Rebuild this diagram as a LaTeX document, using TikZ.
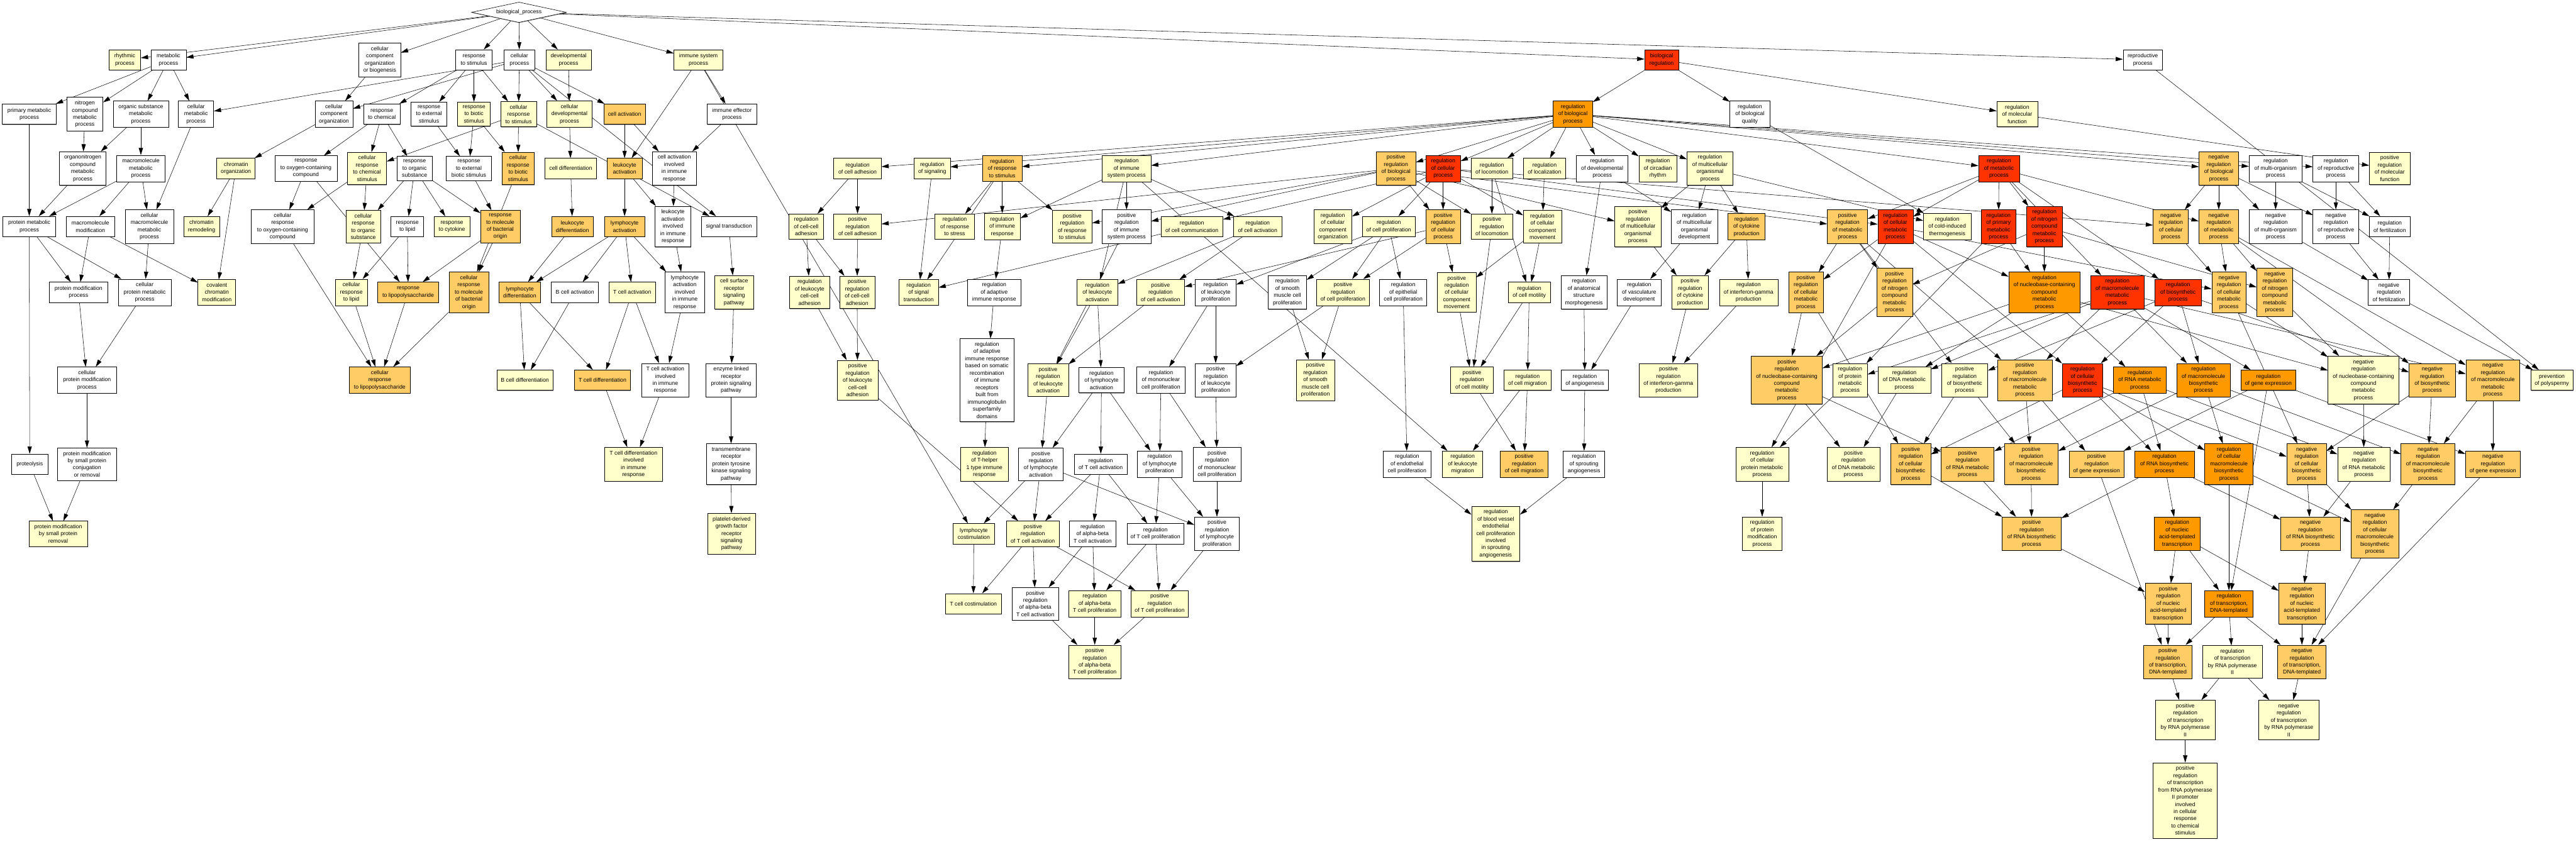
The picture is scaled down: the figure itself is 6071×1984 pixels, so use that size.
\documentclass[tikz,border=0pt]{standalone}
\usepackage{fontspec}
\setmainfont{Liberation Sans}
\usepackage{tikz}
\usetikzlibrary{arrows.meta}
\usetikzlibrary{shapes.geometric, backgrounds, shadows}

\definecolor{goyel}{HTML}{FFFFCC}
\definecolor{golor}{HTML}{FFCC66}
\definecolor{goorg}{HTML}{FF9900}
\definecolor{gored}{HTML}{FF3300}

\tikzset{
  box/.style={draw=black, line width=0.9pt, rectangle, align=center,
    font=\fontsize{13}{17}\selectfont, inner xsep=4pt, inner ysep=8pt,
    minimum height=48pt,
    drop shadow={shadow xshift=1pt, shadow yshift=-1.5pt, fill=black, opacity=0.35}},
  wh/.style={box, fill=white},
  yl/.style={box, fill=goyel},
  lo/.style={box, fill=golor},
  og/.style={box, fill=goorg},
  rd/.style={box, fill=gored},
  arr/.style={-{Triangle[length=17pt,width=10pt]}, line width=0.8pt},
}

\begin{document}
\begin{tikzpicture}[x=1pt, y=-1pt]
\useasboundingbox (0,0) rectangle (6071,1984);

% root
\node[draw=black, line width=0.9pt, fill=white, diamond, shape aspect=4.6, inner sep=0pt,
  minimum width=223pt, minimum height=48pt, font=\fontsize{13}{17}\selectfont,
  drop shadow={shadow xshift=1pt, shadow yshift=-1.5pt, fill=black, opacity=0.35}]
  (bp) at (1223,29) {biological\_process};

% level 1
\node[yl, minimum width=75pt] (rhy) at (294,141) {rhythmic\\process};
\node[wh, minimum width=83pt] (met) at (397,141) {metabolic\\process};
\node[wh, minimum width=99pt] (ccob) at (895,141) {cellular\\component\\organization\\or biogenesis};
\node[wh, minimum width=86pt] (rstim) at (1117,141) {response\\to stimulus};
\node[wh, minimum width=73pt] (cproc) at (1224,141) {cellular\\process};
\node[yl, minimum width=106pt] (dev) at (1340,141) {developmental\\process};
\node[yl, minimum width=116pt] (imm) at (1646,141) {immune system\\process};
\node[rd, minimum width=80pt] (breg) at (3916,141) {biological\\regulation};
\node[wh, minimum width=93pt] (repro) at (5050,141) {reproductive\\process};

% level 2
\node[wh, minimum width=128pt] (pmet) at (69,269) {primary metabolic\\process};
\node[wh, minimum width=85pt] (ncmet) at (200,269) {nitrogen\\compound\\metabolic\\process};
\node[wh, minimum width=130pt] (osmet) at (332,269) {organic substance\\metabolic\\process};
\node[wh, minimum width=83pt] (cmet) at (462,269) {cellular\\metabolic\\process};
\node[wh, minimum width=89pt] (cco) at (787,269) {cellular\\component\\organization};
\node[wh, minimum width=87pt] (rchem) at (900,269) {response\\to chemical};
\node[wh, minimum width=85pt] (rext) at (1011,269) {response\\to external\\stimulus};
\node[yl, minimum width=77pt] (rbio) at (1117,269) {response\\to biotic\\stimulus};
\node[yl, minimum width=84pt] (crstim) at (1222,269) {cellular\\response\\to stimulus};
\node[yl, minimum width=107pt] (cdev) at (1342,269) {cellular\\developmental\\process};
\node[lo, minimum width=98pt] (cact) at (1472,269) {cell activation};
\node[wh, minimum width=117pt] (ieff) at (1725,269) {immune effector\\process};
\node[og, minimum width=93pt] (rbp) at (3707,269) {regulation\\of biological\\process};
\node[wh, minimum width=94pt] (rbq) at (4124,269) {regulation\\of biological\\quality};
\node[yl, minimum width=96pt] (rmf) at (4754,269) {regulation\\of molecular\\function};

% level 3
\node[wh, minimum width=109pt] (onmet) at (195,397) {organonitrogen\\compound\\metabolic\\process};
\node[wh, minimum width=114pt] (mmet) at (332,397) {macromolecule\\metabolic\\process};
\node[yl, minimum width=90pt] (chrorg) at (556,397) {chromatin\\organization};
\node[wh, minimum width=147pt] (roxy) at (721,397) {response\\to oxygen-containing\\compound};
\node[yl, minimum width=92pt] (crchem) at (865,397) {cellular\\response\\to chemical\\stimulus};
\node[wh, minimum width=83pt] (rorg) at (977,397) {response\\to organic\\substance};
\node[wh, minimum width=106pt] (rextb) at (1105,397) {response\\to external\\biotic stimulus};
\node[lo, minimum width=77pt] (crbio) at (1221,397) {cellular\\response\\to biotic\\stimulus};
\node[yl, minimum width=122pt] (cdiff) at (1345,397) {cell differentiation};
\node[lo, minimum width=83pt] (lact) at (1472,397) {leukocyte\\activation};
\node[wh, minimum width=104pt] (caiir) at (1589,397) {cell activation\\involved\\in immune\\response};
\node[yl, minimum width=112pt] (radh) at (2021,397) {regulation\\of cell adhesion};
\node[yl, minimum width=85pt] (rsig) at (2197,397) {regulation\\of signaling};
\node[lo, minimum width=93pt] (rrs) at (2362,397) {regulation\\of response\\to stimulus};
\node[yl, minimum width=115pt] (ris) at (2655,397) {regulation\\of immune\\system process};
\node[lo, minimum width=93pt] (prbp) at (3290,397) {positive\\regulation\\of biological\\process};
\node[rd, minimum width=82pt] (rcp) at (3401,397) {regulation\\of cellular\\process};
\node[yl, minimum width=98pt] (rloc) at (3516,397) {regulation\\of locomotion};
\node[yl, minimum width=100pt] (rlocz) at (3640,397) {regulation\\of localization};
\node[wh, minimum width=122pt] (rdev) at (3776,397) {regulation\\of developmental\\process};
\node[yl, minimum width=89pt] (rcirc) at (3907,397) {regulation\\of circadian\\rhythm};
\node[yl, minimum width=108pt] (rmop) at (4030,397) {regulation\\of multicellular\\organismal\\process};
\node[rd, minimum width=96pt] (rmp) at (4711,397) {regulation\\of metabolic\\process};
\node[lo, minimum width=93pt] (nrbp) at (5229,397) {negative\\regulation\\of biological\\process};
\node[wh, minimum width=125pt] (rmorg) at (5363,397) {regulation\\of multi-organism\\process};
\node[wh, minimum width=108pt] (rrep) at (5505,397) {regulation\\of reproductive\\process};
\node[yl, minimum width=96pt] (prmf) at (5632,397) {positive\\regulation\\of molecular\\function};

% level 4
\node[wh, minimum width=125pt] (prmet) at (69,534) {protein metabolic\\process};
\node[wh, minimum width=114pt] (mmod) at (213,534) {macromolecule\\modification};
\node[wh, minimum width=114pt] (cmmet) at (352,534) {cellular\\macromolecule\\metabolic\\process};
\node[yl, minimum width=85pt] (chrrem) at (475,534) {chromatin\\remodeling};
\node[wh, minimum width=147pt] (croxy) at (666,534) {cellular\\response\\to oxygen-containing\\compound};
\node[yl, minimum width=82pt] (crorg) at (856,534) {cellular\\response\\to organic\\substance};
\node[wh, minimum width=77pt] (rlip) at (960,534) {response\\to lipid};
\node[yl, minimum width=85pt] (rcyt) at (1065,534) {response\\to cytokine};
\node[lo, minimum width=93pt] (rmbo) at (1179,534) {response\\to molecule\\of bacterial\\origin};
\node[lo, minimum width=98pt] (ldiff) at (1349,534) {leukocyte\\differentiation};
\node[lo, minimum width=94pt] (lyact) at (1472,534) {lymphocyte\\activation};
\node[wh, minimum width=85pt] (laiir) at (1586,534) {leukocyte\\activation\\involved\\in immune\\response};
\node[wh, minimum width=131pt] (sigtr) at (1718,534) {signal transduction};
\node[yl, minimum width=82pt] (rccadh) at (1900,534) {regulation\\of cell-cell\\adhesion};
\node[yl, minimum width=112pt] (pradh) at (2021,534) {positive\\regulation\\of cell adhesion};
\node[yl, minimum width=93pt] (rrstr) at (2250,534) {regulation\\of response\\to stress};
\node[yl, minimum width=85pt] (rir) at (2362,534) {regulation\\of immune\\response};
\node[yl, minimum width=93pt] (prrs) at (2527,534) {positive\\regulation\\of response\\to stimulus};
\node[wh, minimum width=115pt] (pris) at (2655,534) {positive\\regulation\\of immune\\system process};
\node[yl, minimum width=146pt] (rcc) at (2809,534) {regulation\\of cell communication};
\node[yl, minimum width=114pt] (rcact) at (2964,534) {regulation\\of cell activation};
\node[yl, minimum width=90pt] (rcco) at (3141,534) {regulation\\of cellular\\component\\organization};
\node[yl, minimum width=125pt] (rcprol) at (3273,534) {regulation\\of cell proliferation};
\node[lo, minimum width=82pt] (prcp) at (3401,534) {positive\\regulation\\of cellular\\process};
\node[yl, minimum width=98pt] (prloc) at (3516,534) {positive\\regulation\\of locomotion};
\node[yl, minimum width=90pt] (rccm) at (3635,534) {regulation\\of cellular\\component\\movement};
\node[yl, minimum width=109pt] (prmop) at (3860,534) {positive\\regulation\\of multicellular\\organismal\\process};
\node[wh, minimum width=109pt] (rmod) at (3993,534) {regulation\\of multicellular\\organismal\\development};
\node[lo, minimum width=88pt] (rcytp) at (4116,534) {regulation\\of cytokine\\production};
\node[lo, minimum width=95pt] (prmp) at (4354,534) {positive\\regulation\\of metabolic\\process};
\node[rd, minimum width=83pt] (rcmp) at (4467,534) {regulation\\of cellular\\metabolic\\process};
\node[yl, minimum width=112pt] (rcit) at (4589,534) {regulation\\of cold-induced\\thermogenesis};
\node[rd, minimum width=82pt] (rpmp) at (4710,534) {regulation\\of primary\\metabolic\\process};
\node[rd, minimum width=85pt] (rncmp) at (4818,534) {regulation\\of nitrogen\\compound\\metabolic\\process};
\node[lo, minimum width=83pt] (nrcp) at (5116,534) {negative\\regulation\\of cellular\\process};
\node[lo, minimum width=94pt] (nrmp) at (5229,534) {negative\\regulation\\of metabolic\\process};
\node[wh, minimum width=125pt] (nrmorg) at (5363,534) {negative\\regulation\\of multi-organism\\process};
\node[wh, minimum width=108pt] (nrrep) at (5505,534) {negative\\regulation\\of reproductive\\process};
\node[wh, minimum width=97pt] (rfert) at (5632,534) {regulation\\of fertilization};

% level 5
\node[wh, minimum width=138pt] (pmod) at (185,689) {protein modification\\process};
\node[wh, minimum width=124pt] (cpmet) at (341,689) {cellular\\protein metabolic\\process};
\node[yl, minimum width=89pt] (ccmod) at (511,689) {covalent\\chromatin\\modification};
\node[yl, minimum width=76pt] (crlip) at (828,689) {cellular\\response\\to lipid};
\node[lo, minimum width=144pt] (rlps) at (962,689) {response\\to lipopolysaccharide};
\node[lo, minimum width=94pt] (crmbo) at (1105,689) {cellular\\response\\to molecule\\of bacterial\\origin};
\node[lo, minimum width=98pt] (lydiff) at (1225,689) {lymphocyte\\differentiation};
\node[wh, minimum width=111pt] (bact) at (1355,689) {B cell activation};
\node[yl, minimum width=109pt] (tact) at (1490,689) {T cell activation};
\node[wh, minimum width=93pt] (lyaiir) at (1614,689) {lymphocyte\\activation\\involved\\in immune\\response};
\node[yl, minimum width=91pt] (csrsp) at (1730,689) {cell surface\\receptor\\signaling\\pathway};
\node[yl, minimum width=95pt] (rlccadh) at (1908,689) {regulation\\of leukocyte\\cell-cell\\adhesion};
\node[yl, minimum width=83pt] (prccadh) at (2020,689) {positive\\regulation\\of cell-cell\\adhesion};
\node[yl, minimum width=93pt] (rst) at (2165,689) {regulation\\of signal\\transduction};
\node[wh, minimum width=125pt] (rair) at (2343,689) {regulation\\of adaptive\\immune response};
\node[yl, minimum width=96pt] (rlact) at (2586,689) {regulation\\of leukocyte\\activation};
\node[yl, minimum width=113pt] (prcact) at (2735,689) {positive\\regulation\\of cell activation};
\node[wh, minimum width=96pt] (rlprol) at (2865,689) {regulation\\of leukocyte\\proliferation};
\node[wh, minimum width=90pt] (rsmprol) at (3034,689) {regulation\\of smooth\\muscle cell\\proliferation};
\node[yl, minimum width=125pt] (prcprol) at (3165,689) {positive\\regulation\\of cell proliferation};
\node[wh, minimum width=111pt] (reprol) at (3307,689) {regulation\\of epithelial\\cell proliferation};
\node[yl, minimum width=91pt] (prccm) at (3433,689) {positive\\regulation\\of cellular\\component\\movement};
\node[yl, minimum width=100pt] (rcmot) at (3604,689) {regulation\\of cell motility};
\node[wh, minimum width=108pt] (rasm) at (3733,689) {regulation\\of anatomical\\structure\\morphogenesis};
\node[wh, minimum width=103pt] (rvd) at (3863,689) {regulation\\of vasculature\\development};
\node[yl, minimum width=87pt] (prcytp) at (3983,689) {positive\\regulation\\of cytokine\\production};
\node[yl, minimum width=138pt] (rifng) at (4121,689) {regulation\\of interferon-gamma\\production};
\node[lo, minimum width=82pt] (prcmp) at (4256,689) {positive\\regulation\\of cellular\\metabolic\\process};
\node[lo, minimum width=84pt] (prncmp) at (4465,689) {positive\\regulation\\of nitrogen\\compound\\metabolic\\process};
\node[og, minimum width=168pt] (rnbc) at (4818,689) {regulation\\of nucleobase-containing\\compound\\metabolic\\process};
\node[rd, minimum width=127pt] (rmmp) at (4990,689) {regulation\\of macromolecule\\metabolic\\process};
\node[rd, minimum width=109pt] (rbsp) at (5133,689) {regulation\\of biosynthetic\\process};
\node[lo, minimum width=81pt] (nrcmp) at (5253,689) {negative\\regulation\\of cellular\\metabolic\\process};
\node[lo, minimum width=85pt] (nrncmp) at (5361,689) {negative\\regulation\\of nitrogen\\compound\\metabolic\\process};
\node[wh, minimum width=97pt] (nrfert) at (5630,689) {negative\\regulation\\of fertilization};

% level 6
\node[wh, minimum width=138pt] (cpmod) at (205,896) {cellular\\protein modification\\process};
\node[lo, minimum width=143pt] (crlps) at (895,896) {cellular\\response\\to lipopolysaccharide};
\node[yl, minimum width=132pt] (bdiff) at (1237,896) {B cell differentiation};
\node[lo, minimum width=132pt] (tdiff) at (1420,896) {T cell differentiation};
\node[wh, minimum width=112pt] (taiir) at (1568,896) {T cell activation\\involved\\in immune\\response};
\node[wh, minimum width=119pt] (elrsp) at (1723,896) {enzyme linked\\receptor\\protein signaling\\pathway};
\node[yl, minimum width=96pt] (prlccadh) at (2021,896) {positive\\regulation\\of leukocyte\\cell-cell\\adhesion};
\node[wh, minimum width=128pt] (rairsr) at (2326,896) {regulation\\of adaptive\\immune response\\based on somatic\\recombination\\of immune\\receptors\\built from\\immunoglobulin\\superfamily\\domains};
\node[yl, minimum width=96pt] (prlact) at (2470,896) {positive\\regulation\\of leukocyte\\activation};
\node[wh, minimum width=106pt] (rlyact) at (2596,896) {regulation\\of lymphocyte\\activation};
\node[wh, minimum width=114pt] (rmcprol) at (2736,896) {regulation\\of mononuclear\\cell proliferation};
\node[wh, minimum width=96pt] (prlprol) at (2865,896) {positive\\regulation\\of leukocyte\\proliferation};
\node[yl, minimum width=90pt] (prsmprol) at (3100,896) {positive\\regulation\\of smooth\\muscle cell\\proliferation};
\node[yl, minimum width=101pt] (prcmot) at (3469,896) {positive\\regulation\\of cell motility};
\node[yl, minimum width=112pt] (rcmig) at (3600,896) {regulation\\of cell migration};
\node[wh, minimum width=111pt] (rang) at (3735,896) {regulation\\of angiogenesis};
\node[yl, minimum width=138pt] (prifng) at (3932,896) {positive\\regulation\\of interferon-gamma\\production};
\node[lo, minimum width=167pt] (prnbc) at (4211,896) {positive\\regulation\\of nucleobase-containing\\compound\\metabolic\\process};
\node[yl, minimum width=82pt] (rprmp) at (4360,896) {regulation\\of protein\\metabolic\\process};
\node[yl, minimum width=124pt] (rdna) at (4488,896) {regulation\\of DNA metabolic\\process};
\node[yl, minimum width=109pt] (prbsp) at (4630,896) {positive\\regulation\\of biosynthetic\\process};
\node[lo, minimum width=128pt] (prmmp) at (4772,896) {positive\\regulation\\of macromolecule\\metabolic\\process};
\node[rd, minimum width=96pt] (rcbsp) at (4908,896) {regulation\\of cellular\\biosynthetic\\process};
\node[og, minimum width=125pt] (rrna) at (5043,896) {regulation\\of RNA metabolic\\process};
\node[og, minimum width=126pt] (rmbsp) at (5193,896) {regulation\\of macromolecule\\biosynthetic\\process};
\node[og, minimum width=129pt] (rge) at (5346,896) {regulation\\of gene expression};
\node[yl, minimum width=167pt] (nrnbc) at (5570,896) {negative\\regulation\\of nucleobase-containing\\compound\\metabolic\\process};
\node[lo, minimum width=109pt] (nrbsp) at (5732,896) {negative\\regulation\\of biosynthetic\\process};
\node[lo, minimum width=127pt] (nrmmp) at (5875,896) {negative\\regulation\\of macromolecule\\metabolic\\process};
\node[yl, minimum width=99pt] (poly) at (6014,896) {prevention\\of polyspermy};

% level 7
\node[wh, minimum width=85pt] (prot) at (70,1094) {proteolysis};
\node[wh, minimum width=138pt] (pmsp) at (205,1094) {protein modification\\by small protein\\conjugation\\or removal};
\node[yl, minimum width=136pt] (tdiir) at (1493,1094) {T cell differentiation\\involved\\in immune\\response};
\node[wh, minimum width=117pt] (tmrtk) at (1723,1094) {transmembrane\\receptor\\protein tyrosine\\kinase signaling\\pathway};
\node[yl, minimum width=113pt] (rth1) at (2320,1094) {regulation\\of T-helper\\1 type immune\\response};
\node[wh, minimum width=106pt] (prlyact) at (2453,1094) {positive\\regulation\\of lymphocyte\\activation};
\node[wh, minimum width=125pt] (rtact) at (2594,1094) {regulation\\of T cell activation};
\node[wh, minimum width=106pt] (rlyprol) at (2733,1094) {regulation\\of lymphocyte\\proliferation};
\node[wh, minimum width=113pt] (prmcprol) at (2868,1094) {positive\\regulation\\of mononuclear\\cell proliferation};
\node[wh, minimum width=112pt] (rendo) at (3316,1094) {regulation\\of endothelial\\cell proliferation};
\node[yl, minimum width=95pt] (rlmig) at (3447,1094) {regulation\\of leukocyte\\migration};
\node[lo, minimum width=112pt] (prcmig) at (3592,1094) {positive\\regulation\\of cell migration};
\node[wh, minimum width=98pt] (rspang) at (3733,1094) {regulation\\of sprouting\\angiogenesis};
\node[yl, minimum width=125pt] (rcpmp) at (4153,1094) {regulation\\of cellular\\protein metabolic\\process};
\node[yl, minimum width=125pt] (prdna) at (4368,1094) {positive\\regulation\\of DNA metabolic\\process};
\node[lo, minimum width=94pt] (prcbsp) at (4503,1094) {positive\\regulation\\of cellular\\biosynthetic\\process};
\node[lo, minimum width=125pt] (prrna) at (4637,1094) {positive\\regulation\\of RNA metabolic\\process};
\node[lo, minimum width=127pt] (prmbsp) at (4787,1094) {positive\\regulation\\of macromolecule\\biosynthetic\\process};
\node[lo, minimum width=129pt] (prge) at (4941,1094) {positive\\regulation\\of gene expression};
\node[og, minimum width=140pt] (rrnab) at (5101,1094) {regulation\\of RNA biosynthetic\\process};
\node[og, minimum width=114pt] (rcmbsp) at (5253,1094) {regulation\\of cellular\\macromolecule\\biosynthetic\\process};
\node[lo, minimum width=94pt] (nrcbsp) at (5436,1094) {negative\\regulation\\of cellular\\biosynthetic\\process};
\node[yl, minimum width=124pt] (nrrna) at (5571,1094) {negative\\regulation\\of RNA metabolic\\process};
\node[lo, minimum width=127pt] (nrmbsp) at (5722,1094) {negative\\regulation\\of macromolecule\\biosynthetic\\process};
\node[lo, minimum width=129pt] (nrge) at (5875,1094) {negative\\regulation\\of gene expression};

% level 8
\node[yl, minimum width=138pt] (pmsr) at (137,1258) {protein modification\\by small protein\\removal};
\node[yl, minimum width=112pt] (pdgf) at (1724,1258) {platelet-derived\\growth factor\\receptor\\signaling\\pathway};
\node[yl, minimum width=98pt] (lycost) at (2295,1258) {lymphocyte\\costimulation};
\node[yl, minimum width=124pt] (prtact) at (2434,1258) {positive\\regulation\\of T cell activation};
\node[wh, minimum width=109pt] (rabact) at (2575,1258) {regulation\\of alpha-beta\\T cell activation};
\node[wh, minimum width=134pt] (rtprol) at (2723,1258) {regulation\\of T cell proliferation};
\node[wh, minimum width=106pt] (prlyprol) at (2868,1258) {positive\\regulation\\of lymphocyte\\proliferation};
\node[yl, minimum width=114pt] (rbvec) at (3525,1258) {regulation\\of blood vessel\\endothelial\\cell proliferation\\involved\\in sprouting\\angiogenesis};
\node[yl, minimum width=93pt] (rpmod) at (4153,1258) {regulation\\of protein\\modification\\process};
\node[lo, minimum width=140pt] (prrnab) at (4788,1258) {positive\\regulation\\of RNA biosynthetic\\process};
\node[og, minimum width=108pt] (rnat) at (5131,1258) {regulation\\of nucleic\\acid-templated\\transcription};
\node[lo, minimum width=141pt] (nrrnab) at (5445,1258) {negative\\regulation\\of RNA biosynthetic\\process};
\node[lo, minimum width=113pt] (nrcmbsp) at (5597,1258) {negative\\regulation\\of cellular\\macromolecule\\biosynthetic\\process};

% level 9 and below
\node[yl, minimum width=132pt] (tcost) at (2294,1423) {T cell costimulation};
\node[wh, minimum width=109pt] (prabact) at (2440,1423) {positive\\regulation\\of alpha-beta\\T cell activation};
\node[yl, minimum width=122pt] (rabprol) at (2580,1423) {regulation\\of alpha-beta\\T cell proliferation};
\node[yl, minimum width=135pt] (prtprol) at (2733,1423) {positive\\regulation\\of T cell proliferation};
\node[lo, minimum width=109pt] (prnat) at (5110,1423) {positive\\regulation\\of nucleic\\acid-templated\\transcription};
\node[og, minimum width=114pt] (rtdna) at (5253,1423) {regulation\\of transcription,\\DNA-templated};
\node[lo, minimum width=109pt] (nrnat) at (5425,1423) {negative\\regulation\\of nucleic\\acid-templated\\transcription};
\node[yl, minimum width=122pt] (prabprol) at (2580,1560) {positive\\regulation\\of alpha-beta\\T cell proliferation};
\node[lo, minimum width=114pt] (prtdna) at (5109,1560) {positive\\regulation\\of transcription,\\DNA-templated};
\node[yl, minimum width=141pt] (rtp2) at (5261,1560) {regulation\\of transcription\\by RNA polymerase\\II};
\node[lo, minimum width=114pt] (nrtdna) at (5425,1560) {negative\\regulation\\of transcription,\\DNA-templated};
\node[yl, minimum width=141pt] (prtp2) at (5150,1697) {positive\\regulation\\of transcription\\by RNA polymerase\\II};
\node[yl, minimum width=141pt] (nrtp2) at (5394,1697) {negative\\regulation\\of transcription\\by RNA polymerase\\II};
\node[yl, minimum width=151pt] (prtp2c) at (5150,1887) {positive\\regulation\\of transcription\\from RNA polymerase\\II promoter\\involved\\in cellular\\response\\to chemical\\stimulus};

\begin{scope}[on background layer]
\fill[white] (0,0) rectangle (6071,1984);
% process part
\foreach \a/\b in {bp/rhy, bp/met, bp/ccob, bp/rstim, bp/cproc, bp/dev, bp/imm, bp/breg, bp/repro,
  met/pmet, met/ncmet, met/osmet, met/cmet, cproc/cmet, cproc/cco, cproc/crstim, cproc/cdev,
  cproc/cact, cproc/sigtr, ccob/cco, rstim/rchem, rstim/rext, rstim/rbio, rstim/crstim, dev/cdev,
  cco/chrorg, rchem/roxy, rchem/crchem, rchem/rorg, crstim/crchem, crstim/crbio, crstim/sigtr,
  rext/rextb, rbio/rextb, rbio/crbio, cdev/cdiff, cact/lact, cact/caiir, imm/lact, imm/ieff,
  imm/lycost, ncmet/onmet, osmet/onmet, osmet/mmet, pmet/prmet, onmet/prmet, mmet/prmet,
  mmet/mmod, mmet/cmmet, cmet/cmmet, chrorg/chrrem, chrorg/ccmod, roxy/croxy, roxy/rlps,
  crchem/croxy, crchem/crorg, rorg/crorg, rorg/rlip, rorg/rcyt, rorg/rmbo, rextb/rmbo,
  crbio/crmbo, cdiff/ldiff, lact/lyact, lact/laiir, ieff/caiir, caiir/laiir, prmet/pmod,
  prmet/cpmet, prmet/prot, mmod/pmod, mmod/ccmod, cmmet/cpmet, crorg/crlip, rlip/crlip,
  rlip/rlps, rmbo/rlps, rmbo/crmbo, ldiff/lydiff, lyact/lydiff, lyact/bact, lyact/tact,
  lyact/lyaiir, laiir/lyaiir, sigtr/csrsp, pmod/cpmod, cpmet/cpmod, croxy/crlps, crlip/crlps,
  rlps/crlps, crmbo/crlps, lydiff/bdiff, lydiff/tdiff, bact/bdiff, tact/tdiff, tact/taiir,
  lyaiir/taiir, csrsp/elrsp, cpmod/pmsp, tdiff/tdiir, taiir/tdiir, prot/pmsr, pmsp/pmsr,
  elrsp/tmrtk, tmrtk/pdgf}
  \draw[arr] (\a) -- (\b);
% immune and signalling regulation
\foreach \a/\b in {breg/rbp, breg/rbq, breg/rmf, rbp/radh, rbp/rsig, rbp/rrs, rbp/ris,
  rbp/prbp, rbp/rcp, rbp/rloc, rbp/rlocz, rbp/rdev, rbp/rcirc, rbp/rmop, rbp/rmp, rbp/nrbp,
  rbp/rmorg, rbp/rrep, radh/rccadh, radh/pradh, prbp/pradh, prbp/prrs, prbp/pris, prbp/prcp,
  prbp/prloc, prbp/prmop, prbp/prmp, rrs/rrstr, rrs/rir, rrs/prrs, rrs/rst, ris/rir, ris/pris,
  ris/rcact, ris/rlact, ris/rlmig, rcp/rcc, rcp/rcco, rcp/rcprol, rcp/prcp, rcp/rccm, rcp/rcmp,
  rcp/nrcp, rsig/rst, rcc/rst, rir/rair, rcact/rlact, rcact/prcact, prcp/prcact, prcp/prcprol,
  prcp/prccm, rcprol/rlprol, rcprol/rsmprol, rcprol/prcprol, rcprol/reprol, rccadh/rlccadh,
  rccadh/prccadh, pradh/prccadh, rlccadh/prlccadh, prccadh/prlccadh, rair/rairsr,
  rairsr/rth1, rlact/prlact, rlact/rlyact, prcact/prlact, pris/prlact, rlprol/rmcprol,
  rlprol/prlprol, prcprol/prlprol, prcprol/prsmprol, rsmprol/prsmprol, prlact/prlyact,
  rlyact/prlyact, rlyact/rtact, rlyact/rlyprol, rmcprol/rlyprol, rmcprol/prmcprol,
  prlprol/prmcprol, prlyact/lycost, prlyact/prtact, prlyact/prlyprol, rtact/prtact,
  rtact/rabact, rtact/rtprol, prlccadh/prtact, rlyprol/rtprol, rlyprol/prlyprol,
  prmcprol/prlyprol, lycost/tcost, prtact/tcost, prtact/prabact, prtact/prtprol,
  rabact/prabact, rabact/rabprol, rtprol/rabprol, rtprol/prtprol, prlyprol/prtprol,
  prabact/prabprol, rabprol/prabprol, prtprol/prabprol}
  \draw[arr] (\a) -- (\b);
% development and metabolism regulation
\foreach \a/\b in {rloc/prloc, rloc/rcmot, rlocz/rccm, rdev/rmod, rdev/rasm, rmop/prmop,
  rmop/rmod, rmop/rcytp, rmop/rcit, rbq/rcit, rmp/prmp, rmp/rcmp, rmp/rpmp, rmp/rncmp,
  rmp/nrmp, rmp/rmmp, rmp/rbsp, rccm/prccm, rccm/rcmot, prloc/prcmot, prccm/prcmot,
  rcmot/prcmot, rcmot/rcmig, rmod/rvd, rasm/rang, rvd/rang, rcytp/prcytp, rcytp/rifng,
  prmop/prcytp, rifng/prifng, prcytp/prifng, prmp/prcmp, prmp/prncmp, prmp/prbsp,
  prmp/prmmp, rcmp/prcmp, rcmp/nrcmp, rcmp/rcbsp, rcmp/rnbc, rcmp/rcpmp, rpmp/rnbc,
  rpmp/rprmp, rncmp/rnbc, rncmp/prncmp, rncmp/nrncmp, prcmp/prnbc, prcmp/prcbsp,
  prncmp/prnbc, rnbc/prnbc, rnbc/rrna, rnbc/nrnbc, rnbc/rdna, rmmp/rprmp, rmmp/rdna,
  rmmp/prmmp, rmmp/rmbsp, rmmp/rge, rmmp/nrmmp, rbsp/prbsp, rbsp/rcbsp, rbsp/rmbsp,
  rbsp/nrbsp, reprol/rendo, rcmig/rlmig, rcmig/prcmig, prcmot/prcmig, rang/rspang,
  rendo/rbvec, rspang/rbvec, rprmp/rcpmp, rcpmp/rpmod, rdna/prdna, prnbc/prdna,
  prnbc/prrna, prbsp/prcbsp, prbsp/prmbsp, rcbsp/prcbsp, rcbsp/nrcbsp, rcbsp/rrnab,
  rcbsp/rcmbsp, rrna/prrna, rrna/nrrna, rrna/rrnab, prmmp/prmbsp, prmmp/prge,
  rmbsp/prmbsp, rmbsp/rcmbsp, rmbsp/nrmbsp, rge/prge, rge/nrge, rge/rtdna}
  \draw[arr] (\a) -- (\b);
% negative regulation and transcription
\foreach \a/\b in {nrbp/nrcp, nrbp/nrmp, nrbp/nrmorg, nrbp/nrrep, nrcp/nrcmp, nrmp/nrcmp,
  nrmp/nrncmp, nrmp/nrbsp, nrmp/nrmmp, rmorg/nrmorg, rmorg/rfert, rrep/nrrep, rrep/rfert,
  rmf/prmf, nrmorg/nrfert, nrrep/nrfert, rfert/nrfert, nrfert/poly, repro/poly,
  nrcmp/nrnbc, nrcmp/nrcbsp, nrncmp/nrnbc, nrnbc/nrrna, nrbsp/nrcbsp, nrbsp/nrmbsp,
  nrmmp/nrmbsp, nrmmp/nrge, prrna/prrnab, prmbsp/prrnab, prcbsp/prrnab, rrnab/prrnab,
  rrnab/rnat, rrnab/nrrnab, rcmbsp/rtdna, rcmbsp/nrcmbsp, nrcbsp/nrrnab, nrcbsp/nrcmbsp,
  nrrna/nrrnab, nrmbsp/nrcmbsp, rnat/prnat, rnat/rtdna, rnat/nrnat, prrnab/prnat,
  nrrnab/nrnat, prnat/prtdna, rtdna/prtdna, rtdna/rtp2, rtdna/nrtdna, prge/prtdna,
  nrnat/nrtdna, nrcmbsp/nrtdna, nrge/nrtdna, prtdna/prtp2, rtp2/prtp2, rtp2/nrtp2,
  nrtdna/nrtp2, prtp2/prtp2c}
  \draw[arr] (\a) -- (\b);
\end{scope}
\end{tikzpicture}
\end{document}
